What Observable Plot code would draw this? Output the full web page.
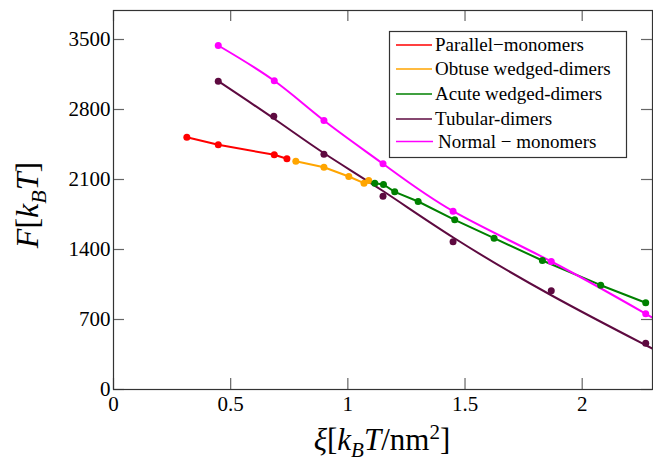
<!DOCTYPE html>
<html>
<head>
<meta charset="utf-8">
<script src="https://cdn.jsdelivr.net/npm/d3@7"></script>
<script src="https://cdn.jsdelivr.net/npm/@observablehq/plot@0.6"></script>
<style>
  html, body { margin: 0; padding: 0; background: #fff; }
</style>
</head>
<body>
<div id="chart"></div>
<script>
// ---- data ----
const parallelX = [0.313, 0.447, 0.686, 0.740];
const parallelY = [2523, 2447, 2347, 2307];

const obtuseX = [0.778, 0.898, 1.004, 1.069, 1.089];
const obtuseY = [2283, 2223, 2130, 2063, 2090];

const acuteX = [1.115, 1.152, 1.200, 1.300, 1.456, 1.624, 1.830, 2.079, 2.271];
const acuteY = [2063, 2050, 1977, 1880, 1697, 1513, 1290, 1043, 867];

const tubularX = [0.447, 0.684, 0.898, 1.150, 1.449, 1.868, 2.271];
const tubularY = [3083, 2733, 2353, 1933, 1477, 987, 463];
// fitted curve drawn through the tubular points
const tubularFitX = [0.447, 0.690, 0.900, 1.150, 1.450, 1.870, 2.270, 2.300];
const tubularFitY = [3083, 2700, 2360, 1985, 1520, 940, 445, 407];

const normalX = [0.447, 0.686, 0.898, 1.150, 1.449, 1.868, 2.271];
const normalY = [3440, 3087, 2690, 2257, 1783, 1280, 757];
const normalCurveX = [...normalX, 2.300];
const normalCurveY = [...normalY, 720];

const seriesNames = ["Parallel\u2212monomers", "Obtuse wedged-dimers", "Acute wedged-dimers", "Tubular-dimers", "Normal \u2212 monomers"];
const seriesColors = ["#ff0000", "#ffa500", "#008000", "#5e0a40", "#ff00ff"];

const xTicks = [0, 0.5, 1, 1.5, 2];
const yTicks = [0, 700, 1400, 2100, 2800, 3500];

const zip = (xs, ys) => xs.map((x, i) => ({x, y: ys[i]}));

const W = 653, H = 462;
const mL = 113, mR = 1, mT = 10, mB = 73;
const plotW = W - mL - mR, plotH = H - mT - mB;

const lineOpts = (c, curve) => ({x: "x", y: "y", stroke: c, strokeWidth: 2, curve, clip: true});
const dotOpts = (c) => ({x: "x", y: "y", fill: c, r: 3.5, clip: true});

const plot = Plot.plot({
  width: W,
  height: H,
  marginLeft: mL, marginRight: mR, marginTop: mT, marginBottom: mB,
  style: {fontFamily: "'Liberation Serif', 'DejaVu Serif', serif", fontSize: "21px", color: "#000", background: "#fff"},
  x: {domain: [0, 2.3]},
  y: {domain: [0, 3790]},
  marks: [
    Plot.line(zip(parallelX, parallelY), lineOpts(seriesColors[0], "linear")),
    Plot.line(zip(obtuseX, obtuseY), lineOpts(seriesColors[1], "linear")),
    Plot.line(zip(acuteX, acuteY), lineOpts(seriesColors[2], "linear")),
    Plot.line(zip(tubularFitX, tubularFitY), lineOpts(seriesColors[3], "natural")),
    Plot.line(zip(normalCurveX, normalCurveY), lineOpts(seriesColors[4], "natural")),
    Plot.dot(zip(parallelX, parallelY), dotOpts(seriesColors[0])),
    Plot.dot(zip(obtuseX, obtuseY), dotOpts(seriesColors[1])),
    Plot.dot(zip(acuteX, acuteY), dotOpts(seriesColors[2])),
    Plot.dot(zip(tubularX, tubularY), dotOpts(seriesColors[3])),
    Plot.dot(zip(normalX, normalY), dotOpts(seriesColors[4])),
    // inward ticks on all four sides
    Plot.tickY(yTicks, {y: d => d, stroke: "#666", strokeWidth: 1.2, insetRight: plotW - 11}),
    Plot.tickY(yTicks, {y: d => d, stroke: "#666", strokeWidth: 1.2, insetLeft: plotW - 11}),
    Plot.tickX(xTicks, {x: d => d, stroke: "#666", strokeWidth: 1.2, insetTop: plotH - 11}),
    Plot.tickX(xTicks, {x: d => d, stroke: "#666", strokeWidth: 1.2, insetBottom: plotH - 11}),
    Plot.frame({stroke: "#333", strokeWidth: 1.2}),
    Plot.axisY(yTicks, {tickSize: 0, tickPadding: 3, label: null, tickFormat: d => String(d)}),
    Plot.axisX(xTicks, {tickSize: 0, tickPadding: 7, label: null, tickFormat: d => String(d)})
  ]
});

document.getElementById("chart").appendChild(plot);

const svg = d3.select(plot);
const serif = "'Liberation Serif', 'DejaVu Serif', serif";

// y-axis label: F[k_B T]
const yl = svg.append("text")
  .attr("transform", "translate(38,205) rotate(-90)")
  .attr("text-anchor", "middle")
  .attr("font-family", serif)
  .attr("font-size", 32)
  .attr("fill", "#000");
yl.append("tspan").attr("font-style", "italic").text("F");
yl.append("tspan").text("[");
yl.append("tspan").attr("font-style", "italic").text("k");
yl.append("tspan").attr("font-style", "italic").attr("font-size", 22).attr("dy", 8).text("B");
yl.append("tspan").attr("font-style", "italic").attr("dy", -8).text("T");
yl.append("tspan").text("]");

// x-axis label: ξ[k_B T/nm²]
const xl = svg.append("text")
  .attr("x", 382).attr("y", 450)
  .attr("text-anchor", "middle")
  .attr("font-family", serif)
  .attr("font-size", 31)
  .attr("fill", "#000");
xl.append("tspan").attr("font-style", "italic").text("\u03be");
xl.append("tspan").text("[");
xl.append("tspan").attr("font-style", "italic").text("k");
xl.append("tspan").attr("font-style", "italic").attr("font-size", 21).attr("dy", 7).text("B");
xl.append("tspan").attr("font-style", "italic").attr("dy", -7).text("T");
xl.append("tspan").text("/nm");
xl.append("tspan").attr("font-size", 21).attr("dy", -11).text("2");
xl.append("tspan").attr("dy", 11).text("]");

// legend
const lg = svg.append("g");
lg.append("rect")
  .attr("x", 389.5).attr("y", 31.5).attr("width", 237).attr("height", 126)
  .attr("fill", "#fff").attr("stroke", "#333").attr("stroke-width", 1.2);
const rowsY = [45, 69, 94, 119, 141.5];
seriesNames.forEach((name, i) => {
  lg.append("line")
    .attr("x1", 396).attr("x2", i === 4 ? 433 : 432)
    .attr("y1", rowsY[i]).attr("y2", rowsY[i])
    .attr("stroke", seriesColors[i]).attr("stroke-width", 1.6);
  lg.append("text")
    .attr("x", i === 4 ? 438 : 435).attr("y", rowsY[i])
    .attr("dy", "0.33em")
    .attr("text-anchor", "start")
    .attr("font-family", serif)
    .attr("font-size", 19)
    .attr("fill", "#000")
    .text(name);
});
</script>
</body>
</html>
